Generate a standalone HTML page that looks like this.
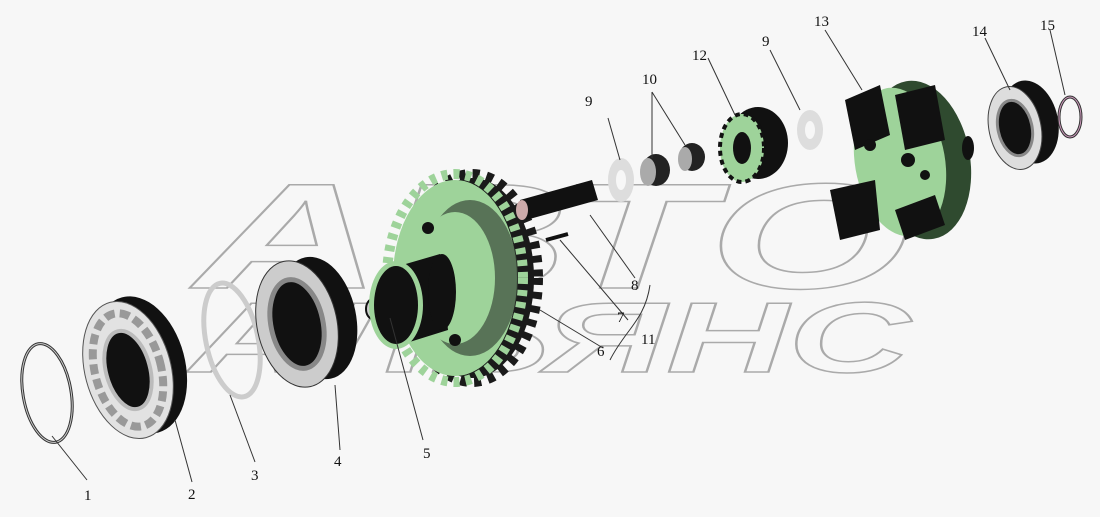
<!DOCTYPE html>
<html><head><meta charset="utf-8"><style>
html,body{margin:0;padding:0;background:#f7f7f7;}
svg{display:block}
.lbl{font-family:"Liberation Serif",serif;}
.wm{font-family:"Liberation Sans",sans-serif;font-weight:bold;font-style:italic;}
</style></head><body>
<svg width="1100" height="517" viewBox="0 0 1100 517" xmlns="http://www.w3.org/2000/svg">
<rect width="1100" height="517" fill="#f7f7f7"/>
<!-- watermark -->
<g fill="none" stroke="#aaa" stroke-width="1.5" class="wm">
<text class="wm" x="195" y="288" font-size="150" textLength="715" lengthAdjust="spacingAndGlyphs">АВТО</text>
<text class="wm" x="190" y="372" font-size="100" textLength="720" lengthAdjust="spacingAndGlyphs">АЛЬЯНС</text>
</g>
<!-- 1 snap ring -->
<ellipse cx="47" cy="393" rx="24" ry="50" transform="rotate(-10 47 393)" fill="none" stroke="#333" stroke-width="3"/>
<ellipse cx="47" cy="393" rx="24" ry="50" transform="rotate(-10 47 393)" fill="none" stroke="#ccc" stroke-width="1"/>
<!-- 2 bearing -->
<ellipse cx="140" cy="365" rx="45" ry="70" transform="rotate(-15 140 365)" fill="#111"/>
<ellipse cx="128" cy="370" rx="43" ry="70" transform="rotate(-15 128 370)" fill="#e2e2e2" stroke="#555"/>
<ellipse cx="128" cy="370" rx="33" ry="58" transform="rotate(-15 128 370)" fill="none" stroke="#999" stroke-width="8" stroke-dasharray="10 5"/>
<ellipse cx="128" cy="370" rx="22" ry="40" transform="rotate(-15 128 370)" fill="#111" stroke="#bbb" stroke-width="4"/>
<!-- 3 ring -->
<ellipse cx="232" cy="340" rx="26" ry="58" transform="rotate(-12 232 340)" fill="none" stroke="#ccc" stroke-width="5"/>
<!-- 4 bearing -->
<ellipse cx="318" cy="318" rx="38" ry="62" transform="rotate(-12 318 318)" fill="#111"/>
<ellipse cx="297" cy="324" rx="40" ry="64" transform="rotate(-12 297 324)" fill="#ccc" stroke="#333"/>
<ellipse cx="297" cy="324" rx="26" ry="45" transform="rotate(-12 297 324)" fill="#111" stroke="#888" stroke-width="5"/>
<!-- 5 bolt -->
<polygon points="370,300 408,288 414,305 376,318" fill="#111"/>
<ellipse cx="373" cy="309" rx="7" ry="10" fill="#ccc" stroke="#111" stroke-width="2"/>
<!-- big gear -->
<ellipse cx="472" cy="278" rx="62" ry="100" fill="#1a1a1a"/>
<ellipse cx="472" cy="278" rx="66" ry="104" fill="none" stroke="#1a1a1a" stroke-width="10" stroke-dasharray="7 7"/>
<ellipse cx="455" cy="278" rx="62" ry="98" fill="#9ed39a"/>
<ellipse cx="455" cy="278" rx="68" ry="104" fill="none" stroke="#9ed39a" stroke-width="10" stroke-dasharray="6 6"/>
<ellipse cx="470" cy="278" rx="48" ry="78" fill="#3a4a3a" opacity=".7"/>
<ellipse cx="455" cy="278" rx="40" ry="66" fill="#9ed39a"/>
<polygon points="392,268 440,254 448,330 400,345" fill="#111"/>
<ellipse cx="442" cy="292" rx="14" ry="38" fill="#111"/>
<ellipse cx="396" cy="305" rx="27" ry="44" fill="#9ed39a"/>
<ellipse cx="396" cy="305" rx="22" ry="39" fill="#111"/>
<circle cx="428" cy="228" r="6" fill="#111"/><circle cx="455" cy="340" r="6" fill="#111"/>
<!-- shaft 8 -->
<polygon points="520,200 592,180 598,200 526,220" fill="#111"/>
<ellipse cx="522" cy="210" rx="6" ry="10" fill="#caa"/>
<line x1="546" y1="240" x2="568" y2="234" stroke="#111" stroke-width="4"/>
<!-- washer 9 -->
<ellipse cx="621" cy="180" rx="13" ry="22" fill="#ddd"/><ellipse cx="621" cy="180" rx="5" ry="10" fill="#f7f7f7"/>
<!-- bushings 10 -->
<ellipse cx="656" cy="170" rx="14" ry="16" fill="#222"/><ellipse cx="648" cy="172" rx="8" ry="14" fill="#aaa"/>
<ellipse cx="692" cy="157" rx="13" ry="14" fill="#222"/><ellipse cx="685" cy="159" rx="7" ry="12" fill="#aaa"/>
<!-- gear 12 -->
<ellipse cx="758" cy="143" rx="30" ry="36" fill="#111"/>
<ellipse cx="742" cy="148" rx="22" ry="34" fill="#9ed39a" stroke="#111" stroke-width="4" stroke-dasharray="5 4"/>
<ellipse cx="742" cy="148" rx="9" ry="16" fill="#111"/>
<!-- washer 9 right -->
<ellipse cx="810" cy="130" rx="13" ry="20" fill="#ddd"/><ellipse cx="810" cy="130" rx="5" ry="9" fill="#f7f7f7"/>
<!-- carrier 13 -->
<ellipse cx="920" cy="160" rx="50" ry="80" transform="rotate(-10 920 160)" fill="#2f4a2f"/>
<ellipse cx="900" cy="162" rx="45" ry="75" transform="rotate(-10 900 162)" fill="#9ed39a"/>
<polygon points="845,100 880,85 890,135 855,150" fill="#111"/>
<polygon points="895,95 935,85 945,140 905,150" fill="#111"/>
<polygon points="830,190 875,180 880,230 840,240" fill="#111"/>
<polygon points="895,210 935,195 945,225 905,240" fill="#111"/>
<circle cx="908" cy="160" r="7" fill="#111"/><circle cx="870" cy="145" r="6" fill="#111"/><circle cx="925" cy="175" r="5" fill="#111"/>
<ellipse cx="968" cy="148" rx="6" ry="12" fill="#111"/>
<!-- 14 bearing -->
<ellipse cx="1030" cy="122" rx="28" ry="42" transform="rotate(-12 1030 122)" fill="#111"/>
<ellipse cx="1015" cy="128" rx="26" ry="42" transform="rotate(-12 1015 128)" fill="#ddd" stroke="#444"/>
<ellipse cx="1015" cy="128" rx="17" ry="28" transform="rotate(-12 1015 128)" fill="#111" stroke="#888" stroke-width="3"/>
<!-- 15 ring -->
<ellipse cx="1070" cy="117" rx="11" ry="20" fill="none" stroke="#333" stroke-width="3"/>
<ellipse cx="1070" cy="117" rx="11" ry="20" fill="none" stroke="#c9b" stroke-width="1"/>
<!-- leader lines -->
<g stroke="#333" stroke-width="1" fill="none">
<line x1="52" y1="436" x2="87" y2="480"/>
<line x1="175" y1="420" x2="192" y2="482"/>
<line x1="230" y1="395" x2="255" y2="462"/>
<line x1="335" y1="385" x2="340" y2="450"/>
<line x1="390" y1="318" x2="423" y2="440"/>
<line x1="540" y1="310" x2="603" y2="348"/>
<line x1="560" y1="240" x2="628" y2="320"/>
<line x1="590" y1="215" x2="635" y2="278"/>
<path d="M610,360 C625,330 645,320 650,285"/>
<line x1="608" y1="118" x2="620" y2="160"/>
<line x1="652" y1="92" x2="652" y2="158"/>
<line x1="652" y1="92" x2="685" y2="145"/>
<line x1="708" y1="58" x2="735" y2="115"/>
<line x1="770" y1="50" x2="800" y2="110"/>
<line x1="825" y1="30" x2="862" y2="90"/>
<line x1="985" y1="38" x2="1010" y2="90"/>
<line x1="1050" y1="30" x2="1065" y2="95"/>
</g>
<g font-size="15" fill="#111" class="lbl">
<text class="lbl" x="84" y="500">1</text><text class="lbl" x="188" y="499">2</text><text class="lbl" x="251" y="480">3</text>
<text class="lbl" x="334" y="466">4</text><text class="lbl" x="423" y="458">5</text><text class="lbl" x="597" y="356">6</text>
<text class="lbl" x="617" y="322">7</text><text class="lbl" x="631" y="290">8</text><text class="lbl" x="641" y="344">11</text>
<text class="lbl" x="585" y="106">9</text><text class="lbl" x="642" y="84">10</text><text class="lbl" x="692" y="60">12</text>
<text class="lbl" x="762" y="46">9</text><text class="lbl" x="814" y="26">13</text><text class="lbl" x="972" y="36">14</text><text class="lbl" x="1040" y="30">15</text>
</g>
</svg>
</body></html>
